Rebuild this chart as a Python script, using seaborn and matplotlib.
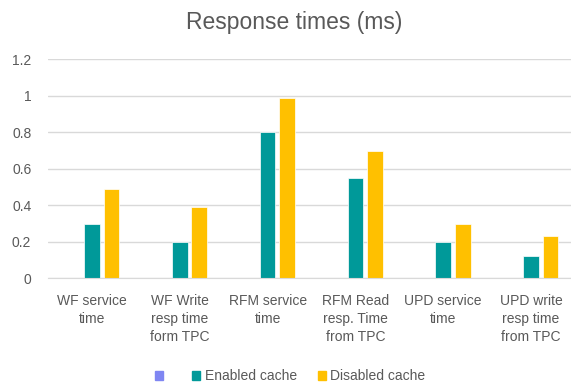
import seaborn as sns
import matplotlib.pyplot as plt
import pandas as pd

categories = ["WF service\ntime", "WF Write\nresp time\nform TPC", "RFM service\ntime",
              "RFM Read\nresp. Time\nfrom TPC", "UPD service\ntime", "UPD write\nresp time\nfrom TPC"]
series_names = [" ", "Enabled cache", "Disabled cache"]
blank = [0, 0, 0, 0, 0, 0]
enabled = [0.30, 0.20, 0.80, 0.55, 0.20, 0.12]
disabled = [0.49, 0.39, 0.99, 0.70, 0.30, 0.23]
colors = ["#7F86F2", "#009999", "#FFC000"]

rows = []
for name, vals in zip(series_names, [blank, enabled, disabled]):
    for c, v in zip(categories, vals):
        rows.append({"cat": c, "series": name, "value": v})
df = pd.DataFrame(rows)

sns.set_style("white")
plt.rcParams["font.family"] = ["Liberation Sans", "DejaVu Sans"]

fig = plt.figure(figsize=(5.71, 3.87), dpi=100)
ax = fig.add_axes([48 / 571, (387 - 278.3) / 387, 527 / 571, 219 / 387])

sns.barplot(data=df, x="cat", y="value", hue="series", palette=colors, saturation=1,
            width=0.667, gap=0.2, ax=ax, legend=False, edgecolor="white", linewidth=0.5)

ax.set_ylim(0, 1.2)
ax.set_xlim(-0.5, 5.5)
ax.set_yticks([0, 0.2, 0.4, 0.6, 0.8, 1.0, 1.2])
ax.set_yticklabels(["0", "0.2", "0.4", "0.6", "0.8", "1", "1.2"])
ax.yaxis.grid(True, color="#D9D9D9", linewidth=1)
ax.set_axisbelow(True)
for s in ["top", "right", "left"]:
    ax.spines[s].set_visible(False)
ax.spines["bottom"].set_color("#D9D9D9")
ax.tick_params(axis="both", length=0, colors="#595959", labelsize=10)
ax.tick_params(axis="y", pad=12)
ax.tick_params(axis="x", pad=11)
for t in ax.get_xticklabels():
    t.set_linespacing(1.4)
ax.set_xlabel("")
ax.set_ylabel("")

fig.text(294 / 571, 1 - 22 / 387, "Response times (ms)", ha="center", va="center",
         fontsize=16.5, color="#595959")

handles = [plt.Rectangle((0, 0), 1, 1, color=c) for c in colors]
fig.legend(handles, series_names, loc="center", bbox_to_anchor=(290 / 571, 1 - 376 / 387),
           ncol=3, frameon=False, fontsize=10, labelcolor="#595959",
           handlelength=0.6, handleheight=0.6, handletextpad=0.3, columnspacing=1.5)

fig.savefig("out.png", dpi=100)
